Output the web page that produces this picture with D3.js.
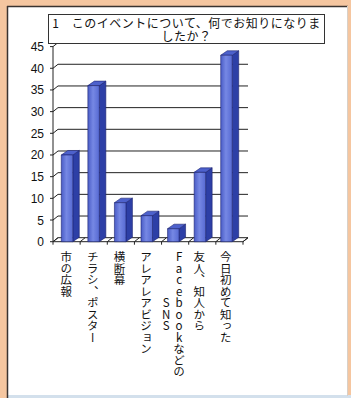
<!DOCTYPE html>
<html><head><meta charset="utf-8">
<script src="https://cdn.jsdelivr.net/npm/d3@7"></script>
<style>
html,body{margin:0;padding:0;background:#f5c6a0;}
#wrap{position:relative;width:351px;height:398px;}
svg{display:block;}
#title{position:absolute;left:48px;top:14px;width:277px;height:30px;box-sizing:border-box;
  border:1px solid #333;background:#fff;text-align:center;
  font-family:'Noto Sans CJK JP',sans-serif;font-size:12px;letter-spacing:0.5px;line-height:13px;
  color:#111;padding-top:1px;white-space:pre-line;}
</style></head>
<body>
<div id="wrap"><svg id="chart" width="351" height="398"></svg></div>
<script>
const titleLines = ["1\u3000このイベントについて、何でお知りになりま", "したか？"];
const categories = ["市の広報", "チラシ、ポスター", "横断幕", "アレアレアビジョン", "Facebookなどの\nSNS", "友人、知人から", "今日初めて知った"];
const values = [20, 36, 9, 6, 3, 16, 43];
const yTicks = [0, 5, 10, 15, 20, 25, 30, 35, 40, 45];

const svg = d3.select("#chart");
const W = 351, H = 398;

// background & panel
svg.append("rect").attr("x",0).attr("y",0).attr("width",W).attr("height",H).attr("fill","#f5c6a0");
svg.append("rect").attr("x",7).attr("y",6).attr("width",341).attr("height",390).attr("fill","#ffffff");
svg.append("rect").attr("x",7).attr("y",395).attr("width",344).attr("height",3).attr("fill","#d3e0ec");
svg.append("line").attr("x1",7.5).attr("y1",6).attr("x2",7.5).attr("y2",398).attr("stroke","#3a3330").attr("stroke-width",1.5);
svg.append("line").attr("x1",7).attr("y1",6.5).attr("x2",348).attr("y2",6.5).attr("stroke","#3a3330").attr("stroke-width",1.5);
svg.append("line").attr("x1",347.5).attr("y1",6).attr("x2",347.5).attr("y2",396).attr("stroke","#d8d0c8").attr("stroke-width",1);

const DX = 5, DY = 4;            // wall depth offset
const BDX = 6.5, BDY = 4.5;      // bar depth
const yBack = d3.scaleLinear().domain([0,45]).range([237.7, 42.6]);
const yFront = v => yBack(v) + DY;
const axisX = 53, floorRight = 243;
const x = d3.scaleBand().domain(categories).range([57, 243]);

const defs = svg.append("defs");
const g1 = defs.append("linearGradient").attr("id","front").attr("x1","0").attr("x2","1").attr("y1","0").attr("y2","0");
g1.append("stop").attr("offset","0%").attr("stop-color","#4a5cc6");
g1.append("stop").attr("offset","45%").attr("stop-color","#7688e4");
g1.append("stop").attr("offset","100%").attr("stop-color","#5669d2");

const grid = svg.append("g").attr("stroke","#222").attr("stroke-width",1).attr("fill","none");
grid.selectAll("line.g").data(yTicks).join("line")
  .attr("x1", axisX + DX).attr("x2", floorRight + DX)
  .attr("y1", d => yBack(d)).attr("y2", d => yBack(d));
grid.selectAll("line.d").data(yTicks).join("line")
  .attr("x1", axisX).attr("y1", d => yFront(d))
  .attr("x2", axisX + DX).attr("y2", d => yBack(d));
grid.selectAll("line.t").data(yTicks).join("line")
  .attr("x1", axisX - 3).attr("y1", d => yFront(d))
  .attr("x2", axisX).attr("y2", d => yFront(d));
grid.append("line").attr("x1",axisX).attr("x2",axisX).attr("y1",yFront(0)).attr("y2",yFront(45));
grid.append("line").attr("x1",axisX).attr("x2",floorRight).attr("y1",yFront(0)).attr("y2",yFront(0));
grid.append("line").attr("x1",floorRight).attr("x2",floorRight+DX).attr("y1",yFront(0)).attr("y2",yBack(0));
const bounds = d3.range(categories.length + 1).map(i => axisX + i * (floorRight - axisX) / categories.length);
grid.selectAll("line.c").data(bounds).join("line")
  .attr("x1", d => d).attr("y1", yFront(0))
  .attr("x2", d => d + DX).attr("y2", yBack(0));
grid.selectAll("line.c2").data(bounds).join("line")
  .attr("x1", d => d).attr("y1", yFront(0))
  .attr("x2", d => d).attr("y2", yFront(0) + 3);

// y labels
svg.append("g").selectAll("text").data(yTicks).join("text")
  .attr("x", 44).attr("y", d => yFront(d) + 0.5)
  .attr("text-anchor","end").attr("dominant-baseline","central")
  .attr("font-family","'Liberation Sans Narrow','Liberation Sans',Arial,sans-serif")
  .attr("font-size",12).attr("fill","#111")
  .text(d => d);

// bars
const FW = 11.5;
const bars = svg.append("g").attr("stroke","#1c2470").attr("stroke-width",0.6).attr("stroke-linejoin","round");
categories.forEach((c, i) => {
  const cx = x(c) + x.bandwidth() / 2;
  const x0 = cx - (FW + BDX) / 2, x1 = x0 + FW;
  const yt = yFront(values[i]), yb = yFront(0);
  bars.append("path").attr("fill","#2d3fa6")
    .attr("d", `M${x1},${yb} L${x1+BDX},${yb-BDY} L${x1+BDX},${yt-BDY} L${x1},${yt} Z`);
  bars.append("path").attr("fill","#4d61cc")
    .attr("d", `M${x0},${yt} L${x0+BDX},${yt-BDY} L${x1+BDX},${yt-BDY} L${x1},${yt} Z`);
  bars.append("rect").attr("fill","url(#front)")
    .attr("x", x0).attr("y", yt).attr("width", FW).attr("height", yb - yt);
});

// category labels (vertical text)
const FS = 11.5;
const lab = svg.append("g").attr("font-family","'Noto Sans CJK JP',sans-serif").attr("font-size",FS).attr("fill","#111");
categories.forEach((c, i) => {
  const lines = c.split("\n");
  const cx = x(c) + x.bandwidth() / 2 - 4;
  const top = 251;
  const gap = 13;
  const n = lines.length;
  const maxLen = d3.max(lines, l => l.length) * FS;
  lines.forEach((l, j) => {
    const colX = cx + ((n - 1) / 2 - j) * gap;
    const t = lab.append("text")
      .attr("x", colX)
      .attr("style","writing-mode: vertical-rl; text-orientation: upright;")
      .text(l);
    if (n === 1) {
      t.attr("y", top).attr("text-anchor","start");
    } else {
      t.attr("y", top + maxLen / 2).attr("text-anchor","middle");
    }
  });
});

// title box: one text block, two lines
d3.select("#wrap").append("div").attr("id","title").text(titleLines.join("\n"));
</script>
</body></html>
